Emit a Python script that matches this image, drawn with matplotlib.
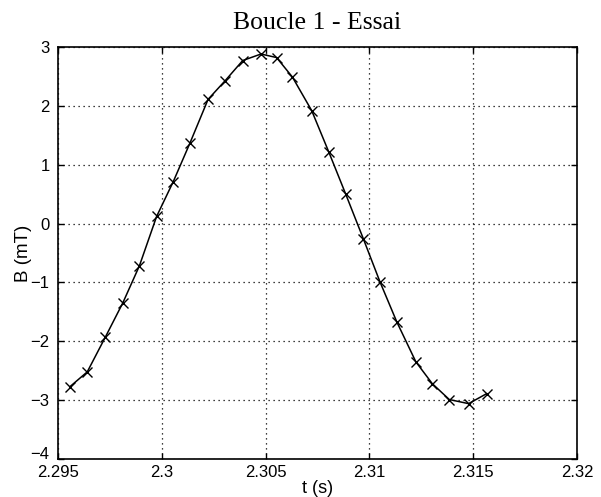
import matplotlib
matplotlib.use("Agg")
import matplotlib.pyplot as plt
import matplotlib.transforms as mtransforms

# Sampled field of loop 1 (time in s, field in mT)
t = [2.29558, 2.29641, 2.29728, 2.29812, 2.29892, 2.29975, 2.30055, 2.30136,
     2.30223, 2.30306, 2.30390, 2.30478, 2.30553, 2.30629, 2.30722, 2.30804,
     2.30886, 2.30971, 2.31051, 2.31132, 2.31224, 2.31303, 2.31385, 2.31478,
     2.31565]
B = [-2.77, -2.52, -1.93, -1.35, -0.72, 0.12, 0.71, 1.37,
     2.11, 2.43, 2.77, 2.88, 2.82, 2.49, 1.92, 1.22,
     0.50, -0.26, -0.99, -1.67, -2.35, -2.72, -2.99, -3.06,
     -2.89]

xticks = [2.295, 2.3, 2.305, 2.31, 2.315, 2.32]
xticklabels = ["2.295", "2.3", "2.305", "2.31", "2.315", "2.32"]
yticks = [-4, -3, -2, -1, 0, 1, 2, 3]

plt.rcParams["font.family"] = ["Liberation Sans", "DejaVu Sans"]

fig = plt.figure(figsize=(6.01, 4.97), dpi=100)
ax = fig.add_axes([0.0965, 0.0765, 0.8635, 0.829])

ax.plot(t, B, color="black", linewidth=1.1, marker="x", markersize=7,
        markeredgewidth=1.0)

ax.set_xlim(2.295, 2.32)
ax.set_ylim(-4, 3)
ax.set_xticks(xticks)
ax.set_xticklabels(xticklabels)
ax.set_yticks(yticks)
ax.set_yticklabels([f"{v:d}".replace("-", "\u2212") for v in yticks])

ax.grid(True, color="black", linestyle=(0, (1, 3)), linewidth=0.9)
ax.tick_params(direction="in", length=4, width=1, labelsize=12,
               top=True, right=True)
ax.tick_params(axis="x", pad=4)
ax.tick_params(axis="y", pad=6)
for s in ax.spines.values():
    s.set_linewidth(1.2)

# lift the bottom y label a little so it clears the first x label
lowest = ax.get_yticklabels()[0]
lowest.set_transform(lowest.get_transform() +
                     mtransforms.ScaledTranslation(0, 4 / 72, fig.dpi_scale_trans))

ax.set_xlabel("t (s)", fontsize=13, labelpad=0)
ax.set_ylabel("B (mT)", fontsize=13.5, labelpad=-1)
ax.set_title("Boucle 1 - Essai", fontsize=18.5, family="Liberation Serif", pad=13)

fig.savefig("out.png", dpi=100)
